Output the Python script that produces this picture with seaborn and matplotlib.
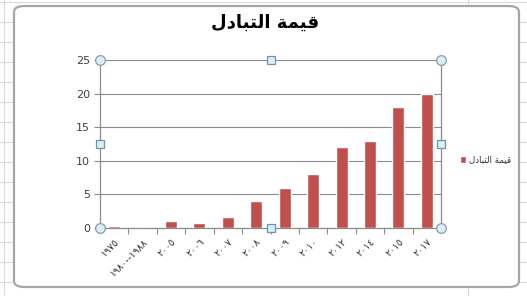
import matplotlib
matplotlib.use("Agg")
import matplotlib.pyplot as plt
import seaborn as sns
import pandas as pd
from matplotlib.patches import FancyBboxPatch
from matplotlib.lines import Line2D

# ---- data ----
categories = ["١٩٧٥", "١٩٨٠--١٩٨٨", "٢٠٠٥", "٢٠٠٦", "٢٠٠٧", "٢٠٠٨",
              "٢٠٠٩", "٢٠١٠", "٢٠١٢", "٢٠١٤", "٢٠١٥", "٢٠١٧"]
values = [0.25, 0, 1.1, 0.8, 1.6, 4, 6, 8, 12, 13, 18, 20]
y_ticks = [0, 5, 10, 15, 20, 25]
# "قيمة التبادل" written with Arabic presentation forms in visual order
series_name = "\uFEDD\uFEA9\uFE8E\uFE92\uFE98\uFEDF\uFE8D \uFE94\uFEE4\uFEF4\uFED7"
title_text = series_name

df = pd.DataFrame({"cat": categories, "val": values})

sns.set_theme(style="white")
plt.rcParams["font.family"] = ["DejaVu Sans"]

W, H = 527, 296
fig = plt.figure(figsize=(W / 100, H / 100), dpi=100)
fig.patch.set_facecolor("white")

# Excel sheet cell grid in background
for yy in range(2, H, 20):
    fig.add_artist(Line2D([0, 1], [1 - yy / H, 1 - yy / H], color="#dadada", lw=0.8, zorder=0))
for xx in [4, 468]:
    fig.add_artist(Line2D([xx / W, xx / W], [0, 1], color="#dadada", lw=0.8, zorder=0))

# chart area frame
frame = FancyBboxPatch((14 / W, (H - 287) / H), (519 - 14) / W, (287 - 6) / H,
                       boxstyle="round,pad=0,rounding_size=0.02",
                       transform=fig.transFigure, facecolor="white",
                       edgecolor="#a6a6a6", lw=1.6, zorder=1)
fig.add_artist(frame)

left, right, top, bottom = 100, 441, 60, 228
ax = fig.add_axes([left / W, (H - bottom) / H, (right - left) / W, (bottom - top) / H])
ax.set_zorder(2)
ax.patch.set_alpha(0)

sns.barplot(data=df, x="cat", y="val", color="#C0504D", width=0.42,
            saturation=1, ax=ax, label=series_name, zorder=3)

ax.set_ylim(0, 25)
ax.set_yticks(y_ticks)
ax.set_yticklabels([str(t) for t in y_ticks], fontsize=8, color="#404040")
ax.set_xlim(-0.5, len(categories) - 0.5)
ax.yaxis.grid(True, color="#8c8c8c", lw=0.8)
ax.set_axisbelow(True)
ax.set_xlabel("")
ax.set_ylabel("")

for s in ["left", "right", "bottom"]:
    ax.spines[s].set_visible(True)
    ax.spines[s].set_color("#8c8c8c")
    ax.spines[s].set_linewidth(0.9)
ax.spines["top"].set_visible(False)

ax.tick_params(axis="y", which="major", length=4, color="#8c8c8c", left=True, width=0.8, pad=3)
# x ticks: labels at category centres, tick marks at boundaries
ax.set_xticks(range(len(categories)))
ax.set_xticklabels(categories, rotation=45, ha="right", rotation_mode="anchor",
                   fontsize=7, color="#333333")
ax.tick_params(axis="x", which="major", length=0, pad=6)
ax.set_xticks([i + 0.5 for i in range(len(categories) - 1)], minor=True)
ax.tick_params(axis="x", which="minor", length=4, color="#8c8c8c", bottom=True, width=0.8)

# selection handles
circ = dict(marker="o", ms=7, mfc="#dcedf3", mec="#7fa2b0", mew=0.9, clip_on=False, zorder=5, ls="none")
sq = dict(marker="s", ms=5.5, mfc="#dcedf3", mec="#6c96b0", mew=0.9, clip_on=False, zorder=5, ls="none")
ax.plot([0, 1, 0, 1], [0, 0, 1, 1], transform=ax.transAxes, **circ)
ax.plot([0.5, 0.5, 0, 1], [0, 1, 0.5, 0.5], transform=ax.transAxes, **sq)

# title
fig.text(265 / W, 1 - 23 / H, title_text, ha="center", va="center",
         fontsize=13, fontweight="bold", color="black", zorder=6)

# legend
leg = ax.legend(loc="center left", bbox_to_anchor=(452 / W, 1 - 160 / H),
                bbox_transform=fig.transFigure, frameon=False, fontsize=6.2,
                handlelength=0.7, handleheight=0.7, handletextpad=0.4)
for t in leg.get_texts():
    t.set_color("#333333")

fig.savefig("out.png", dpi=100, facecolor="white")
